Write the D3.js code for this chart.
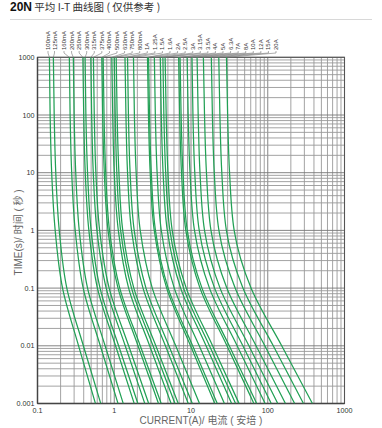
<!DOCTYPE html>
<html><head><meta charset="utf-8">
<script src="https://cdn.jsdelivr.net/npm/d3@7"></script>
<style>
html,body{margin:0;padding:0;background:#fff;}
svg{display:block;font-family:"Liberation Sans",Arial,"Noto Sans CJK SC",sans-serif;}
</style></head>
<body>
<script>
// ---- data ----
const ratings = ["100mA","125mA","160mA","200mA","250mA","300mA","315mA","375mA","400mA","500mA","630mA","750mA","800mA","1A","1.25A","1.5A","1.6A","2A","2.5A","3A","3.15A","3.5A","4A","5A","6.3A","7A","8A","10A","12A","15A","20A"];
const times = [1000, 100, 10, 1, 0.1, 0.01, 0.001];
const currents = [
 [0.143,0.146,0.153,0.170,0.212,0.343,0.569],
 [0.161,0.165,0.173,0.192,0.241,0.396,0.667],
 [0.260,0.266,0.279,0.310,0.394,0.658,1.12],
 [0.293,0.300,0.315,0.350,0.449,0.760,1.31],
 [0.390,0.400,0.419,0.467,0.604,1.04,1.82],
 [0.417,0.427,0.449,0.500,0.653,1.14,2.03],
 [0.495,0.508,0.533,0.595,0.785,1.39,2.50],
 [0.535,0.549,0.576,0.645,0.858,1.54,2.81],
 [0.688,0.706,0.742,0.830,1.12,2.04,3.77],
 [0.717,0.736,0.774,0.867,1.18,2.18,4.09],
 [0.930,0.955,1.00,1.13,1.54,2.89,5.51],
 [1.00,1.03,1.08,1.21,1.68,3.20,6.18],
 [1.06,1.09,1.15,1.29,1.80,3.48,6.81],
 [1.38,1.42,1.49,1.68,2.37,4.64,9.22],
 [1.49,1.53,1.61,1.82,2.59,5.15,10.4],
 [1.78,1.83,1.93,2.18,3.13,6.32,12.9],
 [2.71,2.79,2.94,3.32,4.82,9.86,20.4],
 [2.80,2.88,3.04,3.44,5.04,10.5,22.0],
 [3.33,3.43,3.62,4.10,6.06,12.8,27.2],
 [3.98,4.10,4.33,4.91,7.33,15.7,33.8],
 [4.30,4.43,4.68,5.31,8.01,17.4,38.1],
 [4.60,4.75,5.01,5.69,8.67,19.1,42.3],
 [6.90,7.12,7.52,8.56,13.1,29.4,66.0],
 [7.20,7.43,7.86,8.94,13.9,31.5,71.8],
 [8.90,9.19,9.71,11.1,17.4,39.9,92.4],
 [10.3,10.6,11.2,12.8,20.3,47.4,111],
 [12.0,12.4,13.1,15.0,23.9,56.8,135],
 [14.5,15.0,15.9,18.2,29.3,70.4,170],
 [18.4,19.0,20.1,23.1,37.6,91.6,224],
 [23.0,23.8,25.2,28.9,47.5,118,292],
 [29.0,30.0,31.8,36.5,60.6,152,382]
];
const xTickLabels = ["0.1","1","10","100","1000"];
const yTickLabels = ["0.001","0.01","0.1","1","10","100","1000"];

// ---- layout ----
const W = 382, H = 428;
const L = 37.5, R = 344.5, T = 57.3, B = 403.5;
const svg = d3.select("body").append("svg").attr("width", W).attr("height", H);

const x = d3.scaleLog().domain([0.1, 1000]).range([L, R]);
const y = d3.scaleLog().domain([0.001, 1000]).range([B, T]);

// title
const title = svg.append("text").attr("x", 10).attr("y", 10.5);
title.append("tspan").attr("font-weight", "bold").attr("font-size", 12).attr("fill", "#111").text("20N");
title.append("tspan").attr("fill", "#333").attr("font-family", "'Noto Sans CJK SC','Liberation Sans',sans-serif").attr("font-size", 10.5).text(" 平均 I-T 曲线图 ( 仅供参考 )");
svg.append("line").attr("x1", 10).attr("x2", 372).attr("y1", 19.5).attr("y2", 19.5)
  .attr("stroke", "#d8d8d8").attr("stroke-width", 1);

// grid
const g = svg.append("g");
const isMajor = v => Math.abs(Math.log10(v) - Math.round(Math.log10(v))) < 1e-6;
g.selectAll(".vx").data(x.ticks()).join("line")
  .attr("x1", d => x(d)).attr("x2", d => x(d)).attr("y1", T).attr("y2", B)
  .attr("stroke", d => isMajor(d) ? "#777" : "#999").attr("stroke-width", 0.9);
g.selectAll(".hy").data(y.ticks()).join("line")
  .attr("y1", d => y(d)).attr("y2", d => y(d)).attr("x1", L).attr("x2", R)
  .attr("stroke", d => isMajor(d) ? "#777" : "#999").attr("stroke-width", 0.9);

// frame
svg.append("rect").attr("x", L).attr("y", T).attr("width", R - L).attr("height", B - T)
  .attr("fill", "none").attr("stroke", "#555").attr("stroke-width", 1.1);
svg.append("line").attr("x1", L).attr("x2", L).attr("y1", T).attr("y2", B).attr("stroke", "#444").attr("stroke-width", 1.4);
svg.append("line").attr("x1", L).attr("x2", R).attr("y1", B).attr("y2", B).attr("stroke", "#444").attr("stroke-width", 1.4);

// clip
svg.append("clipPath").attr("id", "clip").append("rect")
  .attr("x", L).attr("y", T).attr("width", R - L).attr("height", B - T);

// curves
const line = d3.line().x(d => x(d[0])).y(d => y(d[1])).curve(d3.curveMonotoneY);
svg.append("g").attr("clip-path", "url(#clip)")
  .selectAll("path").data(currents).join("path")
  .attr("d", c => line(c.map((v, i) => [v, times[i]])))
  .attr("fill", "none").attr("stroke", "#22a055").attr("stroke-width", 1.25);

// axis tick labels
svg.append("g").selectAll("text").data(yTickLabels).join("text")
  .attr("x", L - 3).attr("y", d => y(+d)).attr("dy", "0.35em")
  .attr("text-anchor", "end").attr("font-size", 7.2).attr("fill", "#333").text(d => d);
svg.append("g").selectAll("text").data(xTickLabels).join("text")
  .attr("x", d => x(+d)).attr("y", 413)
  .attr("text-anchor", "middle").attr("font-size", 7.2).attr("fill", "#333").text(d => d);

// axis titles
svg.append("text").attr("transform", `translate(22,${(T + B) / 2 + 2}) rotate(-90)`)
  .attr("text-anchor", "middle").attr("font-size", 10).attr("fill", "#666")
  .attr("font-family", "'Liberation Sans','Noto Sans CJK SC',sans-serif")
  .text("TIME(s)/ 时间 ( 秒 )");
svg.append("text").attr("x", 201).attr("y", 424)
  .attr("text-anchor", "middle").attr("font-size", 10).attr("fill", "#666")
  .attr("font-family", "'Liberation Sans','Noto Sans CJK SC',sans-serif")
  .text("CURRENT(A)/ 电流 ( 安培 )");

// rating labels + leader lines
const n = ratings.length;
const labelX = ratings.map((r, i) => i === 0 ? 48 : i === 1 ? 54.5 : 64 + (i - 2) * (276 - 64) / (n - 3));
const leaders = svg.append("g");
ratings.forEach((r, i) => {
  const cx = x(currents[i][0]);
  leaders.append("path")
    .attr("d", `M${labelX[i]},51 L${labelX[i]},53 L${cx},${T}`)
    .attr("fill", "none").attr("stroke", "#777").attr("stroke-width", 0.6);
  leaders.append("text")
    .attr("transform", `translate(${labelX[i] + 2},50) rotate(-90)`)
    .attr("font-size", 6).attr("fill", "#333").text(r);
});
</script>
</body></html>
